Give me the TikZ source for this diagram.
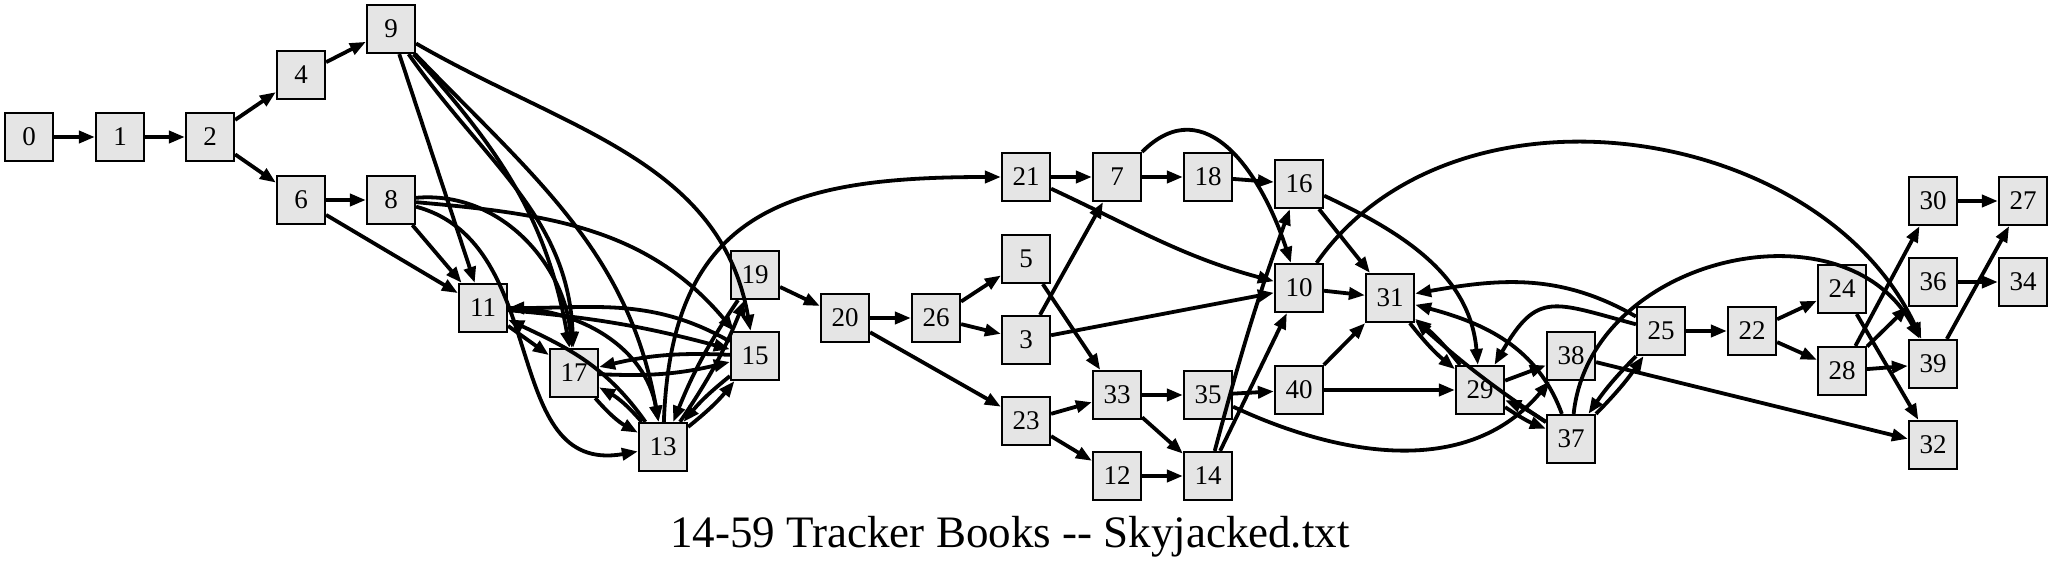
\documentclass[tikz,border=0pt]{standalone}
\usepackage{fontspec}
\setmainfont{Liberation Serif}
\usetikzlibrary{arrows.meta}
\definecolor{boxgray}{HTML}{E5E5E5}

\begin{document}
\begin{tikzpicture}[x=0.5pt,y=0.5pt,
    box/.style={draw, line width=1.1pt, fill=boxgray, minimum size=24pt, inner sep=0pt, font=\fontsize{13.5}{15}\selectfont},
    edge/.style={-{Triangle[length=8pt,width=6pt]}, line width=1.9pt}]
    \useasboundingbox (0,0) rectangle (2053,564);
    \node[box] (n0) at (29,427) {0};
    \node[box] (n1) at (120,427) {1};
    \node[box] (n2) at (210,427) {2};
    \node[box] (n4) at (301,489) {4};
    \node[box] (n6) at (301,364) {6};
    \node[box] (n9) at (391,535) {9};
    \node[box] (n8) at (391,364) {8};
    \node[box] (n11) at (483,256) {11};
    \node[box] (n17) at (574,191) {17};
    \node[box] (n13) at (663,117) {13};
    \node[box] (n15) at (755,208) {15};
    \node[box] (n19) at (755,289) {19};
    \node[box] (n20) at (845,246) {20};
    \node[box] (n26) at (936,246) {26};
    \node[box] (n21) at (1026,387) {21};
    \node[box] (n5) at (1026,305) {5};
    \node[box] (n3) at (1026,224) {3};
    \node[box] (n23) at (1026,143) {23};
    \node[box] (n7) at (1117,387) {7};
    \node[box] (n18) at (1208,387) {18};
    \node[box] (n16) at (1299,380) {16};
    \node[box] (n10) at (1299,276) {10};
    \node[box] (n40) at (1299,174) {40};
    \node[box] (n33) at (1117,169) {33};
    \node[box] (n35) at (1208,169) {35};
    \node[box] (n12) at (1117,88) {12};
    \node[box] (n14) at (1208,88) {14};
    \node[box] (n31) at (1390,266) {31};
    \node[box] (n29) at (1480,174) {29};
    \node[box] (n38) at (1571,208) {38};
    \node[box] (n37) at (1571,125) {37};
    \node[box] (n25) at (1661,233) {25};
    \node[box] (n22) at (1752,233) {22};
    \node[box] (n24) at (1842,275) {24};
    \node[box] (n28) at (1842,193) {28};
    \node[box] (n30) at (1933,363) {30};
    \node[box] (n36) at (1933,282) {36};
    \node[box] (n39) at (1933,200) {39};
    \node[box] (n32) at (1933,119) {32};
    \node[box] (n27) at (2023,363) {27};
    \node[box] (n34) at (2023,282) {34};
    \node[anchor=base, font=\fontsize{22.5}{26}\selectfont] (title) at (1010,17) {14-59 Tracker Books -{}- Skyjacked.txt};

    % left part
    \draw[edge] (n0) -- (n1);
    \draw[edge] (n1) -- (n2);
    \draw[edge] (n2) -- (n4);
    \draw[edge] (n2) -- (n6);
    \draw[edge] (n4) -- (n9);
    \draw[edge] (n6) -- (n8);
    \draw[edge] (n6) -- (n11);
    \draw[edge] (n9) -- (n11);
    \draw[edge] (n8) -- (n11);
    \draw[edge] (n9) to[out=-48,in=100] (n17);
    \draw[edge] (n9) to[out=-55,in=92] (n17);
    \draw[edge] (n9) to[out=-46,in=100] (n13);
    \draw[edge] (n9) to[out=-30,in=100] (n15);
    \draw[edge] (n8) to[out=5,in=95] (n17);
    \draw[edge] (n8) to[out=-5,in=130] (n15);
    \draw[edge] (n8) to[out=-15,in=190,looseness=1.1] (n13);
    \draw[edge] (n11) -- (n17);
    \draw[edge] (n11) to[out=0,in=100] (n13);
    \draw[edge] (n13) to[out=125,in=-25] (n11);
    \draw[edge] (n15) to[out=150,in=0] (n11);
    \draw[edge] (n11) to[out=-5,in=165] (n15);
    \draw[edge] (n15) to[bend right=8] (n17);
    \draw[edge] (n17) to[bend right=8] (n15);
    \draw[edge] (n17) to[bend right=10] (n13);
    \draw[edge] (n13) to[bend right=10] (n17);
    \draw[edge] (n13) to[bend right=6] (n15);
    \draw[edge] (n15) to[bend right=6] (n13);
    \draw[edge] (n13) to[bend right=6] (n19);
    \draw[edge] (n19) to[bend right=6] (n13);

    % middle part
    \draw[edge] (n19) -- (n20);
    \draw[edge] (n20) -- (n26);
    \draw[edge] (n20) -- (n23);
    \draw[edge] (n26) -- (n5);
    \draw[edge] (n26) -- (n3);
    \draw[edge] (n13) to[out=88,in=180,looseness=1.3] (n21);
    \draw[edge] (n21) -- (n7);
    \draw[edge] (n21) to[out=-25,in=165] (n10);
    \draw[edge] (n7) -- (n18);
    \draw[edge] (n7) to[out=45,in=108,looseness=1.25] (n10);
    \draw[edge] (n18) -- (n16);
    \draw[edge] (n3) -- (n7);
    \draw[edge] (n3) -- (n10);
    \draw[edge] (n5) -- (n33);
    \draw[edge] (n23) -- (n33);
    \draw[edge] (n23) -- (n12);
    \draw[edge] (n12) -- (n14);
    \draw[edge] (n33) -- (n35);
    \draw[edge] (n33) -- (n14);
    \draw[edge] (n35) -- (n40);
    \draw[edge] (n35) to[out=-25,in=-130] (n38);
    \draw[edge] (n14) to[out=75,in=-110] (n16);
    \draw[edge] (n14) -- (n10);

    % right part
    \draw[edge] (n16) -- (n31);
    \draw[edge] (n16) to[out=-25,in=95] (n29);
    \draw[edge] (n10) -- (n31);
    \draw[edge] (n10) to[out=55,in=115] (n39);
    \draw[edge] (n40) -- (n31);
    \draw[edge] (n40) -- (n29);
    \draw[edge] (n31) to[bend right=6] (n29);
    \draw[edge] (n29) to[bend right=6] (n31);
    \draw[edge] (n29) to[bend right=6] (n37);
    \draw[edge] (n37) to[bend right=6] (n29);
    \draw[edge] (n29) -- (n38);
    \draw[edge] (n37) to[out=110,in=-15] (n31);
    \draw[edge] (n37) to[bend left=4] (n31);
    \draw[edge] (n37) to[bend right=5] (n25);
    \draw[edge] (n25) to[bend right=5] (n37);
    \draw[edge] (n37) to[out=84,in=118,looseness=1.15] (n39);
    \draw[edge] (n25) to[out=150,in=10] (n31);
    \draw[edge] (n25) to[out=165,in=60,looseness=1.5] (n29);
    \draw[edge] (n38) -- (n32);
    \draw[edge] (n25) -- (n22);
    \draw[edge] (n22) -- (n24);
    \draw[edge] (n22) -- (n28);
    \draw[edge] (n24) -- (n32);
    \draw[edge] (n28) -- (n30);
    \draw[edge] (n28) -- (n36);
    \draw[edge] (n28) -- (n39);
    \draw[edge] (n30) -- (n27);
    \draw[edge] (n36) -- (n34);
    \draw[edge] (n39) -- (n27);
\end{tikzpicture}
\end{document}
